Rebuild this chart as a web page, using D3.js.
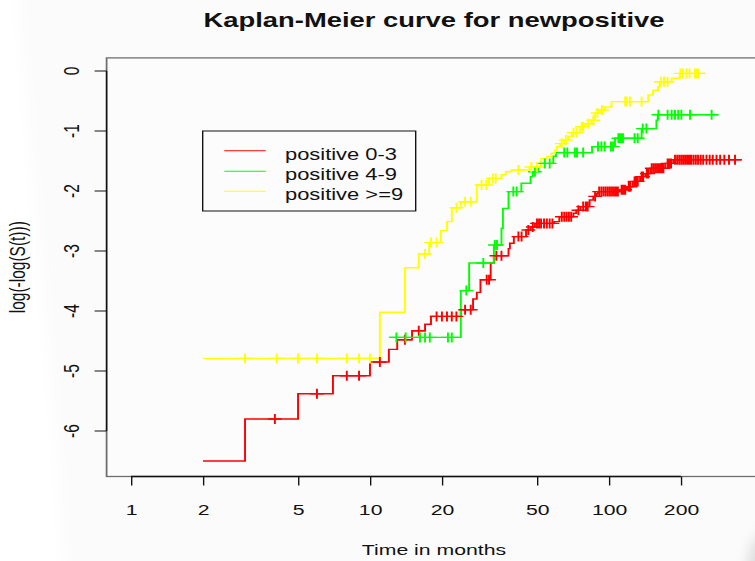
<!DOCTYPE html>
<html>
<head>
<meta charset="utf-8">
<script src="https://cdn.jsdelivr.net/npm/d3@7/dist/d3.min.js"></script>
<style>
  html, body { margin: 0; padding: 0; background: #fbfbfb; }
  svg { display: block; }
  text { font-family: "Liberation Sans", Arial, Helvetica, sans-serif; fill: #111; }
</style>
</head>
<body>
<svg id="chart" width="755" height="561"></svg>
<script>
// ---- data: log(-log(S(t))) Kaplan-Meier estimates by group ----
const groupNames = ["positive 0-3", "positive 4-9", "positive >=9"];
const groupColors = ["#ff0000", "#00ff00", "#ffff00"];

// positive 0-3
const redTimes = [2, 3, 5, 7, 10, 12, 13, 15, 17, 18, 24, 27, 28, 29, 32, 33, 38, 38.5, 40, 45, 47, 49, 59, 62, 71, 73, 76, 83, 86, 89, 90, 111, 119, 126, 135, 142, 149, 172, 186];
const redValues = [-6.50, -5.80, -5.38, -5.08, -4.85, -4.64, -4.48, -4.33, -4.22, -4.09, -3.98, -3.80, -3.69, -3.48, -3.20, -3.08, -2.96, -2.87, -2.76, -2.65, -2.60, -2.54, -2.51, -2.43, -2.37, -2.32, -2.26, -2.15, -2.09, -2.04, -2.01, -1.98, -1.93, -1.84, -1.76, -1.71, -1.62, -1.54, -1.48];
const redCensored = [4, 6, 8, 9, 11, 14, 16, 19, 20, 21, 22, 23, 25, 26.4, 30.8, 31.5, 33.8, 35.5, 41.8, 43.1, 46, 48, 50, 51, 52, 53.5, 55, 56.5, 58, 63.5, 65, 66.5, 68, 69.5, 74.5, 78, 80, 81.5, 87.5, 91, 93, 95, 97, 99, 101, 103, 105, 107, 109, 113, 115, 117, 121, 123, 128, 130, 132, 137, 139, 144, 146, 151, 154, 157, 160, 163, 166, 169, 176, 179, 182, 189, 193, 197, 201, 205, 209, 213, 217, 221, 226, 231, 236, 242, 248, 256, 264, 272, 282, 292, 304, 318, 337];
const redEnd = 359;

// positive 4-9
const greenTimes = [12, 24, 26, 33, 35.5, 36, 38, 43, 47, 48, 50.5, 52, 58.5, 60, 85, 106, 137, 158, 160];
const greenValues = [-4.44, -3.66, -3.20, -2.90, -2.62, -2.29, -2.01, -1.87, -1.76, -1.68, -1.60, -1.54, -1.42, -1.36, -1.26, -1.12, -0.96, -0.82, -0.73];
const greenCensored = [12.9, 14.1, 16.2, 17.0, 17.8, 21.2, 22.0, 25.3, 29.8, 33.3, 34.0, 39.8, 41.1, 49, 53.9, 56.5, 65, 67, 72, 73.5, 78, 90, 93, 96, 102, 104, 109.5, 111, 113, 114.5, 128, 132, 138.5, 143.5, 161, 176, 183, 189, 195, 201, 218.5, 269];
const greenEnd = 287;

// positive >=9
const yellowTimes = [2, 11, 14, 16, 17.7, 19.8, 21, 22, 24, 28, 31.5, 35.5, 37, 39, 46.5, 52, 55, 57.5, 59.4, 60.5, 62.5, 65.3, 67.5, 70, 75.5, 79.5, 84.5, 87.5, 91.5, 96, 102.5, 146, 153, 160.5, 163, 183, 198];
const yellowValues = [-4.79, -4.02, -3.28, -3.05, -2.86, -2.66, -2.51, -2.28, -2.18, -1.90, -1.79, -1.73, -1.68, -1.65, -1.60, -1.46, -1.43, -1.37, -1.32, -1.26, -1.21, -1.15, -1.09, -1.03, -0.93, -0.88, -0.82, -0.70, -0.65, -0.60, -0.51, -0.40, -0.32, -0.26, -0.18, -0.12, -0.04];
const yellowCensored = [3, 4.07, 5, 6, 8, 9, 10, 17, 18, 19, 23, 25, 26.4, 29.3, 30.7, 32.7, 33.6, 41.8, 47.3, 49.9, 63.5, 66, 71, 73, 77, 78, 82, 86, 89.5, 93.5, 117, 118.6, 122.4, 137, 165, 170, 176, 199, 204, 211, 217.5, 229, 232.5, 236];
const yellowEnd = 252;

// axes
const timeLimits = [1, 359];
const xTickValues = [1, 2, 5, 10, 20, 50, 100, 200];
const yTickValues = [0, -1, -2, -3, -4, -5, -6];
const titleText = "Kaplan-Meier curve for newpositive";
const xLabel = "Time in months";
const yLabel = "log(-log(S(t)))";

// ---- layout ----
const SX = 1.37;              // horizontal stretch of the whole figure
const plotLeft = 106.6, plotRight = 766, plotTop = 57.9, plotBottom = 476.5;

const series = [
  { name: groupNames[0], color: groupColors[0], t: redTimes, v: redValues, cens: redCensored, end: redEnd },
  { name: groupNames[1], color: groupColors[1], t: greenTimes, v: greenValues, cens: greenCensored, end: greenEnd },
  { name: groupNames[2], color: groupColors[2], t: yellowTimes, v: yellowValues, cens: yellowCensored, end: yellowEnd }
];

// R-style 4% extension of the data range
const logPad = Math.pow(10, 0.04 * Math.log10(timeLimits[1] / timeLimits[0]));
const x = d3.scaleLog()
  .domain([timeLimits[0] / logPad, timeLimits[1] * logPad])
  .range([plotLeft / SX, plotRight / SX]);

const allValues = redValues.concat(greenValues, yellowValues);
const vMin = d3.min(allValues), vMax = d3.max(allValues);
const vPad = 0.04 * (vMax - vMin);
const y = d3.scaleLinear()
  .domain([vMin - vPad, vMax + vPad])
  .range([plotBottom, plotTop]);

const svg = d3.select("#chart");
const defs = svg.append("defs");
defs.append("filter").attr("id", "soft")
  .attr("x", "-50%").attr("y", "-50%").attr("width", "200%").attr("height", "200%")
  .append("feGaussianBlur").attr("stdDeviation", 7);

// page background with lighter left margin and a dim lower-right corner
svg.append("rect").attr("width", 755).attr("height", 561).attr("fill", "#fbfbfb");
svg.append("path")
  .attr("d", "M-30,-30 L16,-30 L22,40 L60,480 L66,600 L-30,600 Z")
  .attr("fill", "#ffffff").attr("filter", "url(#soft)");
svg.append("ellipse")
  .attr("cx", 770).attr("cy", 575).attr("rx", 22).attr("ry", 45)
  .attr("fill", "#d8d8d8").attr("filter", "url(#soft)");

const g = svg.append("g").attr("transform", `scale(${SX},1)`);

// edge of a neighbouring y label, mostly outside the page
g.append("text")
  .attr("transform", `translate(${767 / SX},254) rotate(-90)`)
  .attr("text-anchor", "middle")
  .style("font-size", "15.5px")
  .style("fill", "#666")
  .text(yLabel);

// plot frame
g.append("rect")
  .attr("x", plotLeft / SX).attr("y", plotTop)
  .attr("width", (plotRight - plotLeft) / SX).attr("height", plotBottom - plotTop)
  .attr("fill", "#fcfcfc").attr("stroke", "#6e6e6e").attr("stroke-width", 1.3);

// x axis (log scale)
const xAxis = d3.axisBottom(x)
  .tickValues(xTickValues)
  .tickFormat(d3.format("d"))
  .tickSize(9)
  .tickSizeOuter(0);
const xg = g.append("g").attr("transform", `translate(0,${plotBottom})`).call(xAxis);
xg.select(".domain").remove();
xg.selectAll(".tick line").attr("stroke", "#111").attr("stroke-width", 1);
xg.selectAll(".tick text")
  .attr("y", 39).attr("dy", null)
  .style("font-size", "15.5px").style("fill", "#111")
  .style("font-family", "'Liberation Sans', Arial, sans-serif");
xg.append("line")
  .attr("x1", x(xTickValues[0])).attr("x2", x(xTickValues[xTickValues.length - 1]))
  .attr("y1", 0).attr("y2", 0)
  .attr("stroke", "#111").attr("stroke-width", 1.3);

// y axis
const yg = g.append("g");
yg.append("line")
  .attr("x1", plotLeft / SX).attr("x2", plotLeft / SX)
  .attr("y1", y(yTickValues[0])).attr("y2", y(yTickValues[yTickValues.length - 1]))
  .attr("stroke", "#111").attr("stroke-width", 1);
yg.selectAll("line.tick").data(yTickValues).join("line")
  .attr("class", "tick")
  .attr("x1", plotLeft / SX).attr("x2", (plotLeft - 12) / SX)
  .attr("y1", d => y(d)).attr("y2", d => y(d))
  .attr("stroke", "#111").attr("stroke-width", 1);
yg.selectAll("text.ytick").data(yTickValues).join("text")
  .attr("class", "ytick")
  .attr("transform", d => `translate(${79 / SX},${y(d)}) rotate(-90)`)
  .attr("text-anchor", "middle")
  .style("font-size", "15.5px")
  .text(d => d);

// survival step curves
const stepLine = d3.line()
  .x(d => x(d[0]))
  .y(d => y(d[1]))
  .curve(d3.curveStepAfter);

series.forEach(s => {
  const pts = s.t.map((t, i) => [t, s.v[i]]);
  pts.push([s.end, s.v[s.v.length - 1]]);
  g.append("path")
    .attr("d", stepLine(pts))
    .attr("fill", "none")
    .attr("stroke", s.color)
    .attr("stroke-width", 1.4);
});

// censoring marks (+) sit on the curve at the censoring time
const half = 5;
series.forEach(s => {
  const valueAt = t => s.v[Math.max(0, d3.bisectRight(s.t, t) - 1)];
  g.append("path")
    .attr("d", s.cens.map(t => {
      const cx = x(t), cy = y(valueAt(t));
      return `M${cx - half},${cy}H${cx + half}M${cx},${cy - half}V${cy + half}`;
    }).join(""))
    .attr("fill", "none")
    .attr("stroke", s.color)
    .attr("stroke-width", 1.4);
});

// legend
const legendX0 = 202.7 / SX, legendX1 = 415.7 / SX;
const legendY0 = 131, legendY1 = 211;
const legendRows = [150.7, 171.3, 191.3];
g.append("rect")
  .attr("x", legendX0).attr("y", legendY0)
  .attr("width", legendX1 - legendX0).attr("height", legendY1 - legendY0)
  .attr("fill", "#fcfcfc").attr("stroke", "#111").attr("stroke-width", 1);
const lg = g.selectAll("g.legend-row").data(series).join("g").attr("class", "legend-row");
lg.append("line")
  .attr("x1", 224.3 / SX).attr("x2", 265.7 / SX)
  .attr("y1", (d, i) => legendRows[i]).attr("y2", (d, i) => legendRows[i])
  .attr("stroke", d => d.color).attr("stroke-width", 1);
lg.append("text")
  .attr("x", 285 / SX)
  .attr("y", (d, i) => legendRows[i] + 9)
  .style("font-size", "16px")
  .text(d => d.name);

// title, axis labels
g.append("text")
  .attr("x", 434 / SX).attr("y", 26.8)
  .attr("text-anchor", "middle")
  .style("font-size", "20px").style("font-weight", "bold")
  .text(titleText);
g.append("text")
  .attr("x", 434 / SX).attr("y", 555)
  .attr("text-anchor", "middle")
  .style("font-size", "15.5px")
  .text(xLabel);
g.append("text")
  .attr("transform", `translate(${25 / SX},${(plotTop + plotBottom) / 2}) rotate(-90)`)
  .attr("text-anchor", "middle")
  .style("font-size", "15.5px")
  .text(yLabel);
</script>
</body>
</html>
